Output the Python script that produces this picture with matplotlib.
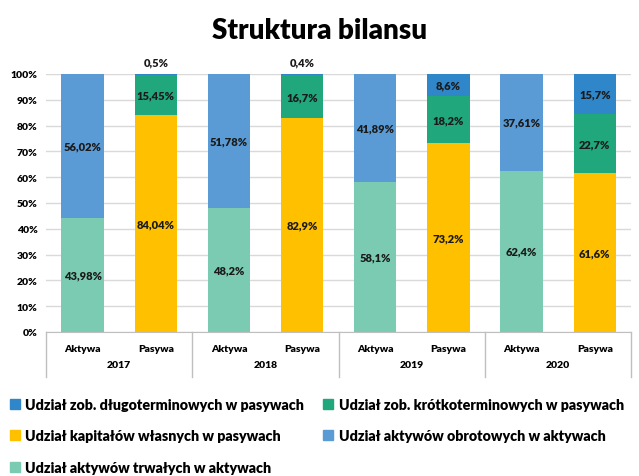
import matplotlib.pyplot as plt
import numpy as np
from matplotlib.patches import Patch

plt.rcParams['font.family'] = ['Lato', 'DejaVu Sans']
plt.rcParams['font.weight'] = 'heavy'

years = ['2017', '2018', '2019', '2020']
sides = ['Aktywa', 'Pasywa']

# aktywa
fixed_assets = [43.98, 48.2, 58.1, 62.4]
current_assets = [56.02, 51.78, 41.89, 37.61]
# pasywa
equity = [84.04, 82.9, 73.2, 61.6]
short_debt = [15.45, 16.7, 18.2, 22.7]
long_debt = [0.5, 0.4, 8.6, 15.7]

c_long = '#2F86C9'
c_short = '#20A77C'
c_equity = '#FFC000'
c_current = '#5B9BD5'
c_fixed = '#7ACBB1'

def fmt(v):
    return ('%g' % v).replace('.', ',') + '%'

fig = plt.figure(figsize=(6.39, 4.77), dpi=100)
ax = fig.add_axes([0.072, 0.302, 0.916, 0.541])

n = len(years)
xa = np.arange(n) * 2
xp = xa + 1
w = 0.58

ax.bar(xa, fixed_assets, w, color=c_fixed, zorder=2)
ax.bar(xa, current_assets, w, bottom=fixed_assets, color=c_current, zorder=2)
ax.bar(xp, equity, w, color=c_equity, zorder=2)
ax.bar(xp, short_debt, w, bottom=equity, color=c_short, zorder=2)
b2 = np.array(equity) + np.array(short_debt)
ax.bar(xp, long_debt, w, bottom=b2, color=c_long, zorder=2)

lab = dict(ha='center', va='center', fontsize=8, fontweight='heavy', color='#1a1a1a', zorder=3)
for i in range(n):
    ax.text(xa[i], fixed_assets[i] / 2, fmt(fixed_assets[i]), **lab)
    ax.text(xa[i], fixed_assets[i] + current_assets[i] / 2, fmt(current_assets[i]), **lab)
    ax.text(xp[i], equity[i] / 2, fmt(equity[i]), **lab)
    ax.text(xp[i], equity[i] + short_debt[i] / 2, fmt(short_debt[i]), **lab)
    if long_debt[i] < 3:
        ax.text(xp[i], 104.5, fmt(long_debt[i]), clip_on=False, **lab)
    else:
        ax.text(xp[i], b2[i] + long_debt[i] / 2, fmt(long_debt[i]), **lab)

ax.set_xlim(-0.5, 2 * n - 0.5)
ax.set_ylim(0, 100)
ax.set_yticks(np.arange(0, 101, 10))
ax.set_yticklabels(['%d%%' % v for v in range(0, 101, 10)], fontsize=7.5, fontweight='heavy')
ax.yaxis.grid(True, color='#D9D9D9', linewidth=1, zorder=0)
ax.tick_params(axis='y', length=0, pad=6)
for s in ['top', 'right', 'left']:
    ax.spines[s].set_visible(False)
ax.spines['bottom'].set_color('#BFBFBF')

ax.set_xticks(np.concatenate([xa, xp]))
ax.set_xticklabels(sides[:1] * n + sides[1:] * n, fontsize=7.5, fontweight='heavy')
ax.tick_params(axis='x', length=0, pad=9)

tr = ax.get_xaxis_transform()
for k in range(n + 1):
    ax.plot([2 * k - 0.5, 2 * k - 0.5], [0, -0.175], transform=tr, color='#BFBFBF',
            linewidth=1, clip_on=False)
for i in range(n):
    ax.text(xa[i] + 0.5, -0.128, years[i], transform=tr, ha='center', va='center',
            fontsize=7.5, fontweight='heavy')

fig.text(0.5, 0.935, 'Struktura bilansu', ha='center', va='center', fontsize=20, fontweight='heavy')

handles = [Patch(color=c_long), Patch(color=c_equity), Patch(color=c_fixed),
           Patch(color=c_short), Patch(color=c_current)]
labels = ['Udział zob. długoterminowych w pasywach',
          'Udział kapitałów własnych w pasywach',
          'Udział aktywów trwałych w aktywach',
          'Udział zob. krótkoterminowych w pasywach',
          'Udział aktywów obrotowych w aktywach']
leg = fig.legend(handles, labels, ncol=2, loc='upper left', bbox_to_anchor=(-0.005, 0.191),
                 frameon=False, fontsize=10.3, handlelength=0.7, handleheight=0.7,
                 handletextpad=0.4, columnspacing=1.3, labelspacing=1.3)
for t in leg.get_texts():
    t.set_fontweight('heavy')

fig.savefig('out.png', dpi=100)
